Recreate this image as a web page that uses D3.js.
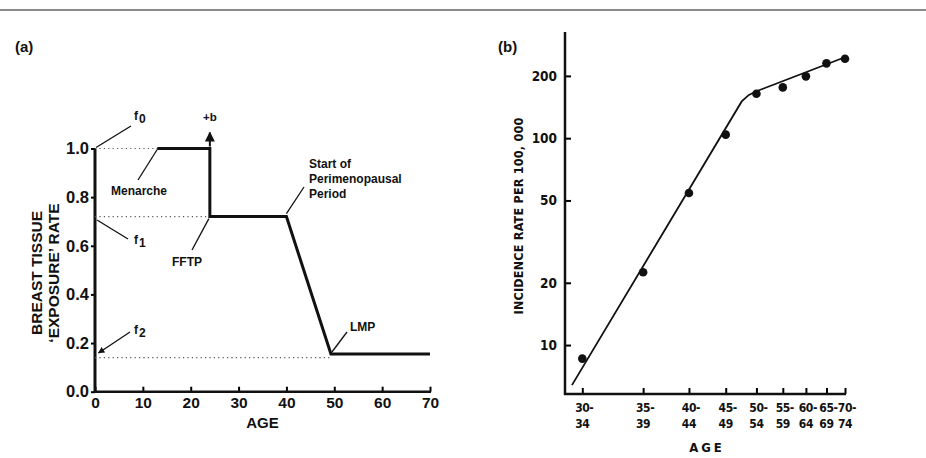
<!DOCTYPE html>
<html>
<head>
<meta charset="utf-8">
<script src="https://cdn.jsdelivr.net/npm/d3@7/dist/d3.min.js"></script>
<style>
  html, body { margin: 0; padding: 0; background: #fff; }
  svg { display: block; }
</style>
</head>
<body>
<svg id="chart" width="926" height="458"></svg>
<script>
// ---------- Panel (a) data ----------
const exposureAges  = [13, 24, 24, 40, 49.3, 70];
const exposureRates = [1.0, 1.0, 0.72, 0.72, 0.155, 0.155];
const refLevels = [1.0, 0.72, 0.14];      // dotted reference levels f0, f1, f2
const refEnds   = [13, 24, 49.3];         // age where each dotted line ends
const aXTicks = [0, 10, 20, 30, 40, 50, 60, 70];
const aYTicks = [0.0, 0.2, 0.4, 0.6, 0.8, 1.0];

// ---------- Panel (b) data ----------
const ageGroups   = ["30-34", "35-39", "40-44", "45-49", "50-54", "55-59", "60-64", "65-69", "70-74"];
const groupStarts = [30, 35, 40, 45, 50, 55, 60, 65, 70];
const incidence   = [8.6, 22.5, 54.3, 104, 164, 176, 199, 230, 242];
const fitAges     = [29.3, 47.5, 48.7, 50.1, 69.4];
const fitRates    = [6.4, 150.5, 161.8, 169, 244];
const bYTicks     = [10, 20, 50, 100, 200];
const bYTickLabels = ["10", "20", "50", "100", "200"];

const svg = d3.select("#chart");

// top rule
svg.append("line").attr("x1", 0).attr("x2", 926).attr("y1", 10).attr("y2", 10)
  .attr("stroke", "#8a8a8a").attr("stroke-width", 2);

// ================= Panel (a) =================
const fontA = "'Liberation Sans', Arial, Helvetica, sans-serif";
const xA = d3.scaleLinear().domain([0, 70]).range([95, 430]);
const yA = d3.scaleLinear().domain([0, 1]).range([391.7, 148.5]);
const gA = svg.append("g").attr("font-family", fontA).attr("fill", "#111");

gA.append("text").attr("x", 15).attr("y", 52).attr("font-size", 15).attr("font-weight", "bold").text("(a)");

// x axis
const axA = gA.append("g").attr("transform", `translate(0,${yA(0)})`)
  .call(d3.axisBottom(xA).tickValues(aXTicks).tickSize(-5).tickPadding(5).tickFormat(d3.format("d")));
axA.select(".domain").remove();
axA.selectAll(".tick line").attr("stroke-width", 2);
axA.selectAll("text").attr("font-size", 15.5).attr("font-family", fontA).attr("font-weight", "bold").attr("fill", "#111");
gA.append("line").attr("x1", xA(0)).attr("x2", xA(70) + 1).attr("y1", yA(0)).attr("y2", yA(0))
  .attr("stroke", "#111").attr("stroke-width", 2.5);

// y axis
const ayA = gA.append("g").attr("transform", `translate(${xA(0)},0)`)
  .call(d3.axisLeft(yA).tickValues(aYTicks).tickSize(4).tickPadding(2).tickFormat(d3.format(".1f")));
ayA.select(".domain").remove();
ayA.selectAll(".tick line").attr("stroke-width", 2);
ayA.selectAll("text").attr("font-size", 16.5).attr("font-family", fontA).attr("font-weight", "bold").attr("fill", "#111");
gA.append("line").attr("x1", xA(0)).attr("x2", xA(0)).attr("y1", yA(0) + 1).attr("y2", yA(1))
  .attr("stroke", "#111").attr("stroke-width", 3);

// axis titles
gA.append("text").attr("x", xA(35)).attr("y", 428).attr("text-anchor", "middle")
  .attr("font-size", 15).attr("font-weight", "bold").text("AGE");
gA.append("text").attr("transform", "translate(41.5,273) rotate(-90)").attr("text-anchor", "middle")
  .attr("font-size", 15.5).attr("font-weight", "bold").text("BREAST TISSUE");
gA.append("text").attr("transform", "translate(59,273) rotate(-90)").attr("text-anchor", "middle")
  .attr("font-size", 15.5).attr("font-weight", "bold").text("\u2018EXPOSURE\u2019 RATE");

// dotted reference lines
refLevels.forEach((lv, i) => {
  gA.append("line").attr("x1", xA(0)).attr("x2", xA(refEnds[i]))
    .attr("y1", yA(lv)).attr("y2", yA(lv))
    .attr("stroke", "#555").attr("stroke-width", 1.2).attr("stroke-dasharray", "1.2,3.2");
});

// exposure curve
const lineA = d3.line().x(d => xA(d[0])).y(d => yA(d[1]));
gA.append("path").datum(exposureAges.map((a, i) => [a, exposureRates[i]]))
  .attr("d", lineA).attr("fill", "none").attr("stroke", "#111").attr("stroke-width", 3)
  .attr("stroke-linejoin", "miter");

// arrow marker
const defs = svg.append("defs");
defs.append("marker").attr("id", "arr").attr("viewBox", "0 0 10 10").attr("refX", 9).attr("refY", 5)
  .attr("markerWidth", 5).attr("markerHeight", 6).attr("orient", "auto-start-reverse")
  .append("path").attr("d", "M0,0 L10,5 L0,10 z").attr("fill", "#111");

// +b arrow
gA.append("line").attr("x1", xA(24)).attr("x2", xA(24)).attr("y1", yA(1) - 2).attr("y2", yA(1) - 16)
  .attr("stroke", "#111").attr("stroke-width", 2).attr("marker-end", "url(#arr)");
gA.append("text").attr("x", xA(24)).attr("y", 121).attr("text-anchor", "middle")
  .attr("font-size", 11.5).attr("font-weight", "bold").text("+b");

// annotation helpers
function leader(x1, y1, x2, y2, arrow) {
  const l = gA.append("line").attr("x1", x1).attr("y1", y1).attr("x2", x2).attr("y2", y2)
    .attr("stroke", "#111").attr("stroke-width", 1.3);
  if (arrow) l.attr("marker-end", "url(#arr)");
}
function fLabel(x, y, sub) {
  const t = gA.append("text").attr("x", x).attr("y", y).attr("font-size", 12).attr("font-weight", "bold");
  t.append("tspan").text("f");
  t.append("tspan").attr("dx", 1).attr("dy", 3).attr("font-size", 12).text(sub);
}

// f0
leader(xA(0) + 1, yA(1) - 1, 131, 126);
fLabel(134, 120, "0");
// Menarche
leader(xA(13), yA(1) + 1, 138, 180);
gA.append("text").attr("x", 111).attr("y", 195).attr("font-size", 12).attr("font-weight", "bold").text("Menarche");
// f1
leader(xA(0) + 2, 220, 128, 239);
fLabel(134, 244, "1");
// FFTP
leader(xA(24) - 1, yA(0.72) + 2, 192, 250);
gA.append("text").attr("x", 172).attr("y", 266).attr("font-size", 12).attr("font-weight", "bold").text("FFTP");
// Start of perimenopausal period
leader(xA(40), yA(0.72) - 3, 304, 187);
const sp = gA.append("text").attr("font-size", 12).attr("font-weight", "bold");
sp.append("tspan").attr("x", 309).attr("y", 168).text("Start of");
sp.append("tspan").attr("x", 309).attr("y", 183).text("Perimenopausal");
sp.append("tspan").attr("x", 309).attr("y", 198).text("Period");
// LMP
leader(xA(49.3) + 1, yA(0.155) - 2, 347, 332);
gA.append("text").attr("x", 350).attr("y", 331).attr("font-size", 12).attr("font-weight", "bold").text("LMP");
// f2
leader(130, 332, 98.5, 353, true);
fLabel(134, 334, "2");

// ================= Panel (b) =================
const fontB = "'DejaVu Sans Condensed', 'Liberation Sans Narrow', 'DejaVu Sans', sans-serif";
const axisXb = 565, axisYb = 394, topYb = 32;
const xB = d3.scaleLog().domain([13, 53]).range([582.3, 845]);   // log(age - 17)
const xAge = a => xB(a - 17);
const yB = d3.scaleLog().domain([5.8, 326]).range([axisYb, topYb]);
const gB = svg.append("g").attr("font-family", fontB).attr("fill", "#111");

gB.append("text").attr("x", 498).attr("y", 52).attr("font-size", 15).attr("font-weight", "bold")
  .attr("font-family", fontA).text("(b)");

// y axis
const ayB = gB.append("g").attr("transform", `translate(${axisXb},0)`)
  .call(d3.axisLeft(yB).tickValues(bYTicks).tickSize(-6).tickPadding(8)
    .tickFormat((d, i) => bYTickLabels[i]));
ayB.select(".domain").remove();
ayB.selectAll(".tick line").attr("stroke-width", 2);
ayB.selectAll("text").attr("font-size", 13.5).attr("font-weight", "bold").attr("font-family", fontB).attr("fill", "#111");
gB.append("line").attr("x1", axisXb).attr("x2", axisXb).attr("y1", topYb).attr("y2", axisYb + 1)
  .attr("stroke", "#111").attr("stroke-width", 2.5);

// x axis (log of age - 17)
const xBAxisScale = d3.scaleLinear().domain(d3.extent(groupStarts))
  .range(d3.extent(groupStarts.map(xAge)));
const axB = gB.append("g").attr("transform", `translate(0,${axisYb})`)
  .call(d3.axisBottom(d3.scaleIdentity()).tickValues(groupStarts.map(xAge)).tickSize(-6).tickFormat(""));
axB.select(".domain").remove();
axB.selectAll(".tick line").attr("stroke-width", 2);
gB.append("line").attr("x1", axisXb - 1).attr("x2", xAge(70) + 1).attr("y1", axisYb).attr("y2", axisYb)
  .attr("stroke", "#111").attr("stroke-width", 2.5);
const tl = gB.append("g").selectAll("text").data(ageGroups).join("text")
  .attr("text-anchor", "middle").attr("font-size", 12).attr("font-weight", "bold")
  .attr("letter-spacing", -0.4).attr("fill", "#111");
tl.each(function(d, i) {
  const parts = d.split("-");
  const x = xAge(groupStarts[i]);
  const t = d3.select(this);
  t.append("tspan").attr("x", x + 2).attr("y", 412).text(parts[0] + "-");
  t.append("tspan").attr("x", x).attr("y", 428).text(parts[1]);
});

// axis titles
gB.append("text").attr("x", 707).attr("y", 452).attr("text-anchor", "middle")
  .attr("font-size", 13).attr("font-weight", "bold").attr("letter-spacing", 3).text("AGE");
gB.append("text").attr("transform", "translate(523,216) rotate(-90)").attr("text-anchor", "middle")
  .attr("font-size", 12.5).attr("font-weight", "bold").attr("letter-spacing", 0.2).text("INCIDENCE RATE PER 100, 000");

// fitted line
const lineB = d3.line().x(d => xAge(d[0])).y(d => yB(d[1]));
gB.append("path").datum(fitAges.map((a, i) => [a, fitRates[i]]))
  .attr("d", lineB).attr("fill", "none").attr("stroke", "#111").attr("stroke-width", 1.8);

// points
gB.append("g").selectAll("circle").data(groupStarts).join("circle")
  .attr("cx", d => xAge(d)).attr("cy", (d, i) => yB(incidence[i])).attr("r", 4.3).attr("fill", "#111");
</script>
</body>
</html>
